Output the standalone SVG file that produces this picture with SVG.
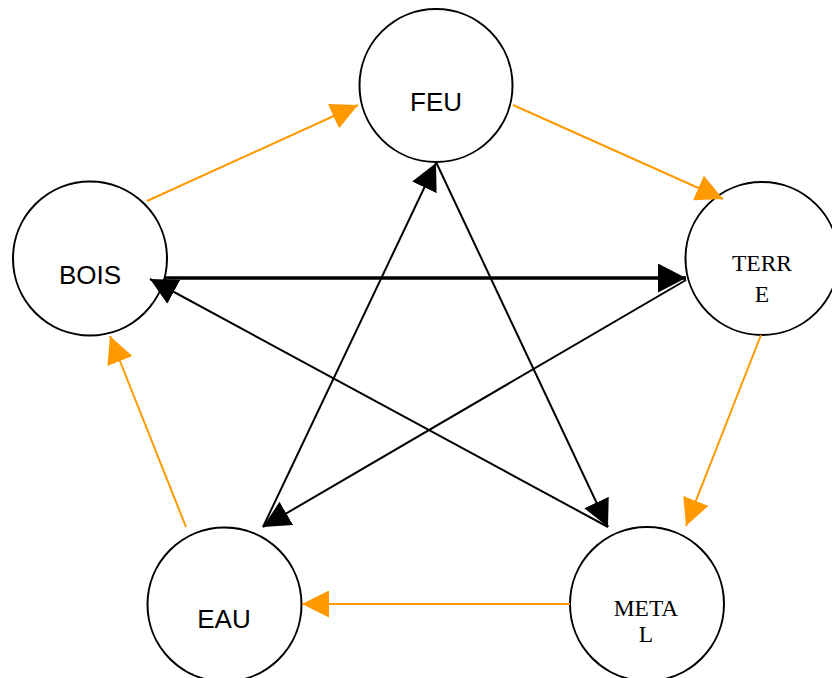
<svg xmlns="http://www.w3.org/2000/svg" width="832" height="678" viewBox="0 0 832 678">
<style>
.node circle{fill:#fff;stroke:#000;stroke-width:2}
.sans{font-family:"Liberation Sans",Arial,sans-serif;font-size:26px;fill:#000;text-anchor:middle}
.serif{font-family:"Liberation Serif","Times New Roman",serif;font-size:23.5px;fill:#000;text-anchor:middle}
.or{stroke:#FF9900;stroke-width:2;fill:none;marker-end:url(#ao)}
.bk{stroke:#000;stroke-width:2;fill:none;marker-end:url(#ab)}
.bkt{stroke:#000;stroke-width:3.5;fill:none;marker-end:url(#ab2)}
</style>
<defs>
<marker id="ao" markerUnits="userSpaceOnUse" viewBox="0 0 27 27" markerWidth="27" markerHeight="27" refX="27" refY="13.5" orient="auto">
<path d="M0,0 L27,13.5 L0,27 z" fill="#FF9900"/>
</marker>
<marker id="ab" markerUnits="userSpaceOnUse" viewBox="0 0 27 27" markerWidth="27" markerHeight="27" refX="27" refY="13.5" orient="auto">
<path d="M0,0 L27,13.5 L0,27 z" fill="#000"/>
</marker>
<marker id="ab2" markerUnits="userSpaceOnUse" viewBox="0 0 28 29" markerWidth="28" markerHeight="29" refX="28" refY="14.5" orient="auto">
<path d="M0,0 L28,14.5 L0,29 z" fill="#000"/>
</marker>
</defs>
<g id="feu" class="node"><circle cx="436" cy="85.5" r="76.5"/><text class="sans" x="436" y="111">FEU</text></g>
<g id="bois" class="node"><circle cx="90" cy="258.5" r="77"/><text class="sans" x="90" y="284">BOIS</text></g>
<g id="terre" class="node"><circle cx="762" cy="258.5" r="76.5"/><text class="serif" x="762" y="270.5">TERR</text><text class="serif" x="762" y="301.5">E</text></g>
<g id="metal" class="node"><circle cx="647" cy="604" r="77"/><text class="serif" x="646" y="615.5">META</text><text class="serif" x="646" y="642">L</text></g>
<g id="eau" class="node"><circle cx="224.5" cy="604.5" r="77"/><text class="sans" x="224" y="628">EAU</text></g>
<g id="connectors">
<line class="or" x1="147" y1="201" x2="358" y2="105"/>
<line class="or" x1="513" y1="105" x2="723" y2="199"/>
<line class="or" x1="761" y1="335" x2="686" y2="526"/>
<line class="or" x1="570" y1="604" x2="302" y2="604"/>
<line class="or" x1="186" y1="527" x2="110" y2="336"/>
<line class="bkt" x1="165" y1="278" x2="686" y2="278"/>
<line class="bk" x1="436" y1="162" x2="608" y2="527"/>
<line class="bk" x1="608" y1="527" x2="150" y2="279"/>
<line class="bk" x1="686" y1="280" x2="263" y2="527"/>
<line class="bk" x1="263" y1="527" x2="436" y2="163"/>
</g>
</svg>
